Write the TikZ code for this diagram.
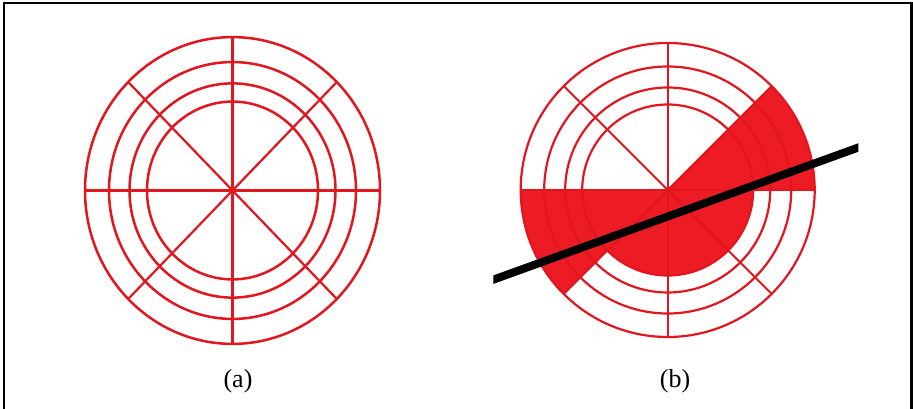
\documentclass[tikz,border=0pt]{standalone}
\usepackage{fontspec}
\setmainfont{Liberation Serif}
\definecolor{ringred}{RGB}{226,22,30}
\definecolor{fillred}{RGB}{237,28,36}
\begin{document}
\begin{tikzpicture}[x=1pt,y=-1pt,
  ring/.style={draw=ringred, line width=2.2pt},
  wedge/.style={fill=fillred},
  rod/.style={line width=8pt, black},
  lbl/.style={font=\fontsize{26}{31}\selectfont, inner sep=0pt}]
\useasboundingbox (0,0) rectangle (913,409);
\fill[white] (0,0) rectangle (913,409);
\draw[line width=2.2pt] (4,415) -- (4,3) -- (911.5,3) -- (911.5,415);

% (a) left target
\begin{scope}[shift={(232.5,190.5)}, yscale=1.04]
  \foreach \r in {147.5,123.5,103,85.5} \draw[ring, line width=2.5pt] (0,0) circle[radius=\r];
  \foreach \a in {0,45,...,315} \draw[ring] (0,0) -- (\a:147.5);
  \fill[ringred] (0,0) circle[radius=2.4];
\end{scope}

% (b) right target
\begin{scope}[shift={(667.7,190)}]
  \fill[wedge] (0,0) -- (-45:147) arc[start angle=-45, end angle=0, radius=147] -- cycle;
  \fill[wedge] (0,0) -- (135:147) arc[start angle=135, end angle=180, radius=147] -- cycle;
  \fill[wedge] (0,0) -- (0:85.5) arc[start angle=0, end angle=180, radius=85.5] -- cycle;
  \foreach \r in {147,123.5,102.5,85.5} \draw[ring] (0,0) circle[radius=\r];
  \foreach \a in {0,45,...,315} \draw[ring, line width=2pt] (0,0) -- (\a:147);
\end{scope}

% black rod
\begin{scope}
  \clip (493.3,0) rectangle (858.3,409);
  \coordinate (p1) at (483.3,283.3);
  \coordinate (p2) at (868.3,143.9);
  \draw[rod] (p1) -- (p2);
\end{scope}

\node[lbl] (la) at (238,381) {(a)};
\node[lbl] (lb) at (675,381) {(b)};
\end{tikzpicture}
\end{document}
